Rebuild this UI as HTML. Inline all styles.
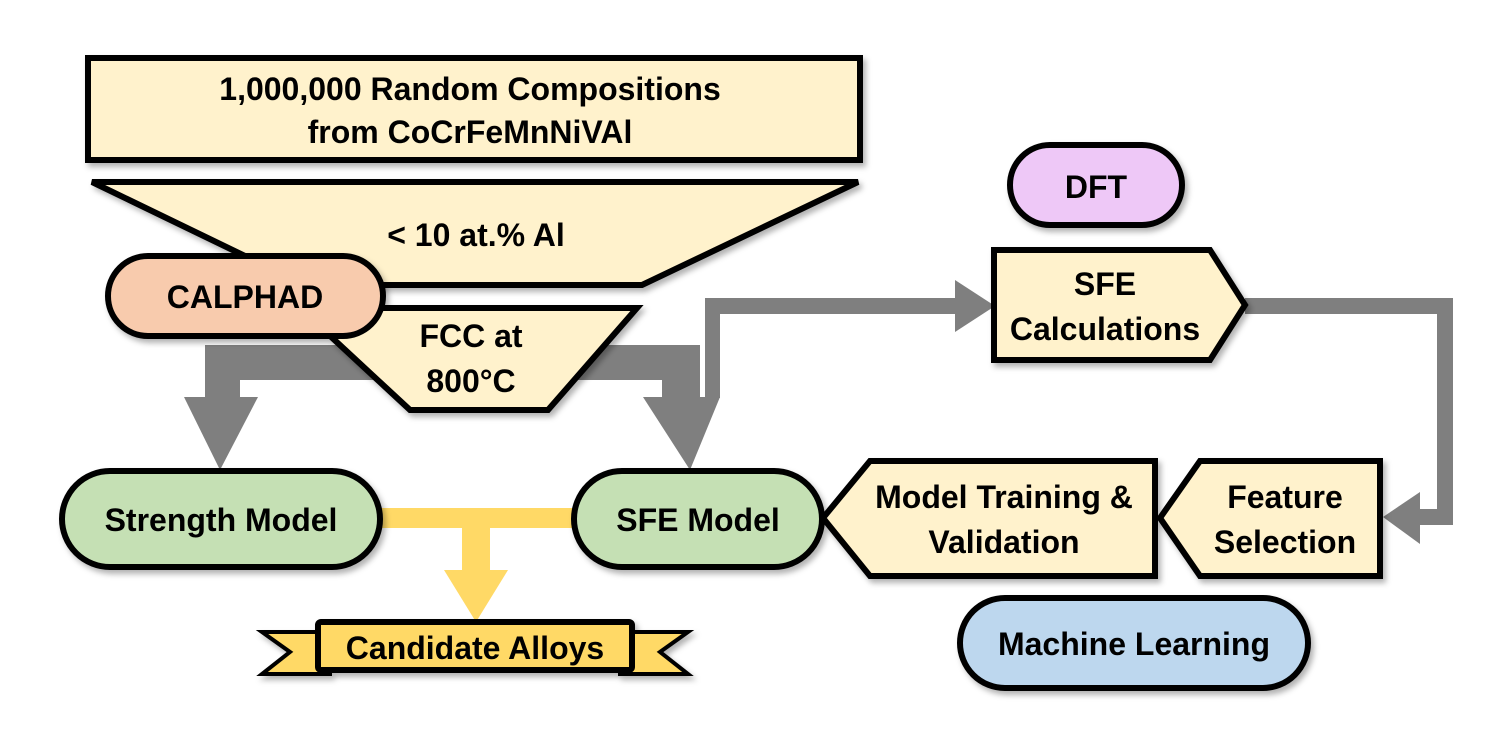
<!DOCTYPE html>
<html><head><meta charset="utf-8"><style>
html,body{margin:0;padding:0;background:#fff;}
svg{display:block;}
text{font-family:"Liberation Sans",sans-serif;font-weight:bold;font-size:32px;fill:#000;text-anchor:middle;}
</style></head><body>
<svg width="1500" height="751" viewBox="0 0 1500 751" xmlns="http://www.w3.org/2000/svg">
<defs>
<filter id="sh" x="-10%" y="-10%" width="130%" height="140%"><feDropShadow dx="3" dy="4" stdDeviation="3" flood-color="#000" flood-opacity="0.3"/></filter>
</defs>
<g stroke="#000" stroke-width="6" stroke-linejoin="miter" filter="url(#sh)">
<rect x="88" y="58" width="772" height="102" fill="#fff2cc"/>
<polygon points="92,182 858,182 642,285 305,285" fill="#fff2cc"/>
</g>
<g fill="#7f7f7f">
<rect x="205" y="345" width="495" height="35"/>
<rect x="205" y="345" width="35" height="52"/>
<polygon points="184,397 258,397 220,470"/>
<rect x="662" y="345" width="38" height="52"/>
<polygon points="643,397 720,397 690,470"/>
<rect x="705" y="298" width="15" height="100"/>
<rect x="705" y="298" width="252" height="16"/>
<polygon points="955,280 995,306 955,332"/>
<rect x="1245" y="298" width="208" height="16"/>
<rect x="1437" y="298" width="16" height="226"/>
<rect x="1405" y="509" width="48" height="16"/>
<polygon points="1420,492 1383,517 1420,544"/>
</g>
<g stroke="#000" stroke-width="6" filter="url(#sh)">
<polygon points="300,308 637,308 548,410 410,410" fill="#fff2cc"/>
<rect x="108" y="256" width="275" height="80" rx="40" fill="#f8cbad"/>
</g>
<g fill="#ffd966">
<rect x="380" y="508" width="195" height="20"/>
<rect x="462" y="520" width="28" height="52"/>
<polygon points="444,570 508,570 476,622"/>
</g>
<g stroke="#000" stroke-width="6" filter="url(#sh)">
<rect x="62" y="471" width="318" height="96" rx="48" fill="#c5e0b4"/>
<rect x="574" y="471" width="248" height="96" rx="48" fill="#c5e0b4"/>
<polygon points="870,461 1155,461 1155,576 870,576 823,518" fill="#fff2cc"/>
<polygon points="1200,461 1380,461 1380,576 1200,576 1160,518" fill="#fff2cc"/>
<polygon points="994,250 1210,250 1245,305 1210,360 994,360" fill="#fff2cc"/>
<rect x="1010" y="145" width="172" height="80" rx="40" fill="#eec8f7"/>
<rect x="960" y="598" width="348" height="90" rx="45" fill="#bdd7ee"/>
<polygon points="318,632 262,632 290,652 262,674 330,674 330,660" fill="#ffd966" stroke-width="4"/>
<polygon points="632,632 688,632 660,652 688,674 620,674 620,660" fill="#ffd966" stroke-width="4"/>
<rect x="318" y="622" width="314" height="48" rx="3" fill="#ffd966"/>
</g>
<text x="470" y="100">1,000,000 Random Compositions</text>
<text x="470" y="143">from CoCrFeMnNiVAl</text>
<text x="476" y="246">&lt; 10 at.% Al</text>
<text x="245" y="308">CALPHAD</text>
<text x="471" y="347">FCC at</text>
<text x="471" y="392">800°C</text>
<text x="221" y="531">Strength Model</text>
<text x="698" y="531">SFE Model</text>
<text x="1004" y="508">Model Training &amp;</text>
<text x="1004" y="553">Validation</text>
<text x="1285" y="508">Feature</text>
<text x="1285" y="553">Selection</text>
<text x="1105" y="295">SFE</text>
<text x="1105" y="340">Calculations</text>
<text x="1096" y="198">DFT</text>
<text x="1134" y="655">Machine Learning</text>
<text x="475" y="659">Candidate Alloys</text>
</svg>
</body></html>
